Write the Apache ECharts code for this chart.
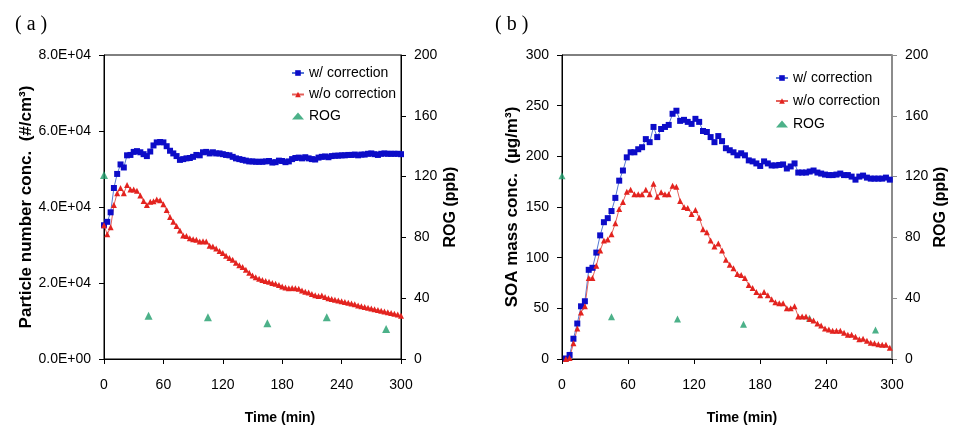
<!DOCTYPE html>
<html><head><meta charset="utf-8">
<script src="https://cdn.jsdelivr.net/npm/echarts@6/dist/echarts.min.js"></script>
<style>html,body{margin:0;padding:0;background:#fff}#c{width:956px;height:437px}</style>
</head><body><div id="c"></div><script>
// ---------- DATA ----------
const seriesNames = ['w/ correction', 'w/o correction', 'ROG'];
const panelLabels = ['( a )', '( b )'];
const xTitle = 'Time (min)';
const yTitleA = 'Particle number conc.  (#/cm³)';
const yTitleB = 'SOA mass conc.  (µg/m³)';
const yTitleROG = 'ROG (ppb)';

// Panel (a): particle number concentration (#/cm3)
const timeA = [0,3.3,6.7,10,13.3,16.7,20,23.3,26.7,30,
  33.3,36.7,40,43.3,46.7,50,53.3,56.7,60,63.3,
  66.7,70,73.3,76.7,80,83.3,86.7,90,93.3,96.7,
  100,103.3,106.7,110,113.3,116.7,120,123.3,126.7,130,
  133.3,136.7,140,143.3,146.7,150,153.3,156.7,160,163.3,
  166.7,170,173.3,176.7,180,183.3,186.7,190,193.3,196.7,
  200,203.3,206.7,210,213.3,216.7,220,223.3,226.7,230,
  233.3,236.7,240,243.3,246.7,250,253.3,256.7,260,263.3,
  266.7,270,273.3,276.7,280,283.3,286.7,290,293.3,296.7,300];
const numCorrected = [35200,36100,38600,45000,48700,51200,50400,53600,53700,54500,
  54700,54400,53900,53400,54600,56200,57000,57100,57000,56000,
  54800,54100,53400,52400,52600,52800,52900,53200,53700,53600,
  54400,54500,54100,54400,54100,54100,53900,53700,53600,53200,
  52800,52600,52400,52200,52000,52000,51900,51900,51900,52000,
  52100,51700,51800,52200,52100,51800,52000,52600,52900,53000,
  52800,53100,52800,52600,52500,53000,53200,53300,53100,53400,
  53500,53500,53600,53600,53700,53700,53800,53600,53800,53800,
  54000,54100,53900,53700,54000,54100,54000,54000,54000,54000,53900];
const numUncorrected = [35200,32800,34700,40500,43600,45000,43600,45800,44600,44600,
  44300,43000,41600,40500,41400,41500,42000,41800,40700,39200,
  37400,36100,35000,33800,32500,32400,31800,31500,31400,30900,
  31000,30900,29800,29600,29100,28400,27900,27200,26600,26100,
  25300,24700,24200,23500,22700,22000,21500,21100,20800,20500,
  20300,20000,19800,19500,19100,18800,18600,18700,18600,18500,
  18000,17700,17500,17100,16800,16600,16700,16300,16000,15800,
  15600,15400,15200,15000,14800,14600,14400,14100,13900,13700,
  13500,13300,13100,12900,12700,12500,12300,12100,11900,11700,11400];

// Panel (b): SOA mass concentration (ug/m3)
const timeB = [3.5,6.9,10.4,13.9,17.3,20.8,24.3,27.7,31.2,34.7,
  38.1,41.6,45.0,48.5,52.0,55.4,58.9,62.4,65.8,69.3,
  72.8,76.2,79.7,83.2,86.6,90.1,93.6,97.0,100.5,104.0,
  107.4,110.9,114.3,117.8,121.3,124.7,128.2,131.7,135.1,138.6,
  142.1,145.5,149.0,152.5,155.9,159.4,162.9,166.3,169.8,173.3,
  176.7,180.2,183.7,187.1,190.6,194.0,197.5,201.0,204.4,207.9,
  211.4,214.8,218.3,221.8,225.2,228.7,232.2,235.6,239.1,242.6,
  246.0,249.5,253.0,256.4,259.9,263.3,266.8,270.3,273.7,277.2,
  280.7,284.1,287.6,291.1,294.5,298.0];
const massCorrected = [0.5,4,20,35,52,57,88,90,105,122,
  135,139,146,159,176,186,199,204,204,207,
  209,217,214,229,219,227,229,231,242,245,
  235,236,234,232,237,234,225,224,219,214,
  220,215,208,206,204,201,203,201,196,195,
  193,190.5,195,193,191,191,191.5,192,188,190,
  193,184,184,184,185,186,184,183,182,181.5,
  181.5,182,183,181.5,181.5,180,177,180,181,179,
  178,178,178,178,179,177];
const massUncorrected = [0,1,15.5,30,46,52,80,80,92,107,
  117,118,123,134,148,155,165,167,162.5,162.5,
  162.5,167,162.5,173,160,164.5,162.5,162.5,171,170,
  156,150,149,143,147,139.5,128,125,117,111,
  114,107,98,93,89.5,84,83,80,73,70,
  66,63,66,63,59,56,55,55,50,50,
  52,42,42,42,39.5,38,35,33,30,29,
  28,28,28,26,24,24,22,19.5,20,18,
  16,15.5,14.5,14,14,11];

// ROG (ppb), right axes
const rogTime = [0,45,105,165,225,285];
const rogA = [121,28.5,27.4,23.5,27.4,19.7];
const rogB = [120.6,27.8,26.3,22.8,26.8,19.1];

// Axis ranges
const xRange = {min:0, max:300, interval:60};
const yRangeA = {min:0, max:80000, interval:20000};
const yRangeB = {min:0, max:300, interval:50};
const rogRange = {min:0, max:200, interval:40};

// ---------- CHART ----------
const SANS = "'Liberation Sans',Arial,sans-serif";
const BLUE = '#0c0cc8', BLUE_LINE = '#5577d4';
const RED = '#e3231f', RED_LINE = '#e4605a';
const GREEN = '#1f9d6c';

function sci(v){
  if (v === 0) return '0.0E+00';
  const e = Math.floor(Math.log10(v) + 1e-9);
  return (v/Math.pow(10,e)).toFixed(1) + 'E+' + String(e).padStart(2,'0');
}
function pairs(t, v){ return t.map((x,i) => [x, v[i]]); }

const labelStyle = {fontFamily: SANS, fontSize: 14, color: '#000'};
function xAxisCfg(gi, padLeft){
  return {
    gridIndex: gi, type: 'value', min: xRange.min, max: xRange.max, interval: xRange.interval,
    name: xTitle, nameLocation: 'middle', nameGap: 52,
    nameTextStyle: {fontFamily: SANS, fontSize: 14, fontWeight: 'bold', color: '#000', padding: [0,0,0,padLeft]},
    axisLine: {show: true, onZero: false, lineStyle: {color: '#000', width: 1}},
    axisTick: {show: true, inside: false, length: 5, lineStyle: {color: '#000'}},
    axisLabel: Object.assign({margin: 19}, labelStyle),
    splitLine: {show: false}
  };
}
function yAxisCfg(gi, pos, range, name, gap, fmt, lineColor, lineWidth, nameSize){
  return {
    gridIndex: gi, type: 'value', position: pos, min: range.min, max: range.max, interval: range.interval,
    name: name, nameLocation: 'middle', nameGap: gap,
    nameTextStyle: {fontFamily: SANS, fontSize: nameSize, fontWeight: 'bold', color: '#000'},
    axisLine: {show: true, onZero: false, lineStyle: {color: lineColor, width: lineWidth}},
    axisTick: {show: true, inside: false, length: 5, lineStyle: {color: lineColor}},
    axisLabel: Object.assign({margin: 13, formatter: fmt}, labelStyle),
    splitLine: {show: false}
  };
}
function lineSeries(name, xi, yi, data, symbol, color, lineColor, size){
  return {
    name: name, type: 'line', xAxisIndex: xi, yAxisIndex: yi, data: data,
    symbol: symbol, symbolSize: size, showSymbol: true, showAllSymbol: true,
    itemStyle: {color: color}, lineStyle: {color: lineColor, width: 1},
    emphasis: {disabled: true}, animation: false
  };
}
function rogSeries(xi, yi, data, size){
  return {
    name: 'ROG', type: 'scatter', xAxisIndex: xi, yAxisIndex: yi, data: data,
    symbol: 'triangle', symbolSize: size, itemStyle: {color: GREEN},
    emphasis: {disabled: true}, animation: false
  };
}

const chart = echarts.init(document.getElementById('c'), null, {renderer: 'canvas'});
chart.setOption({
  backgroundColor: '#fff',
  animation: false,
  grid: [
    {left: 104, top: 55, width: 297, height: 304, show: true, borderColor: '#000', borderWidth: 1, backgroundColor: 'transparent', containLabel: false, outerBoundsMode: 'none'},
    {left: 562, top: 55, width: 330, height: 304, show: true, borderColor: '#000', borderWidth: 1, backgroundColor: 'transparent', containLabel: false, outerBoundsMode: 'none'}
  ],
  xAxis: [xAxisCfg(0, 55), xAxisCfg(1, 30)],
  yAxis: [
    yAxisCfg(0, 'left', yRangeA, yTitleA, 67, sci, '#000', 1, 17),
    yAxisCfg(0, 'right', rogRange, yTitleROG, 42, null, '#000', 1, 16),
    yAxisCfg(1, 'left', yRangeB, yTitleB, 41, null, '#000', 1, 17),
    yAxisCfg(1, 'right', rogRange, yTitleROG, 41, null, '#8c8c8c', 2, 16)
  ],
  legend: [
    {left: 286, top: 61, orient: 'vertical', itemWidth: 12, itemHeight: 7, itemGap: 7.5,
     data: seriesNames, textStyle: {fontFamily: SANS, fontSize: 14, color: '#000'}, selectedMode: false},
    {left: 770, top: 66, orient: 'vertical', itemWidth: 12, itemHeight: 7, itemGap: 9,
     data: seriesNames, textStyle: {fontFamily: SANS, fontSize: 14, color: '#000'}, selectedMode: false}
  ],
  graphic: [
    {type: 'text', left: 15, top: 15, style: {text: panelLabels[0], font: "20px 'Liberation Serif', serif", fill: '#000'}},
    {type: 'text', left: 495, top: 15, style: {text: panelLabels[1], font: "20px 'Liberation Serif', serif", fill: '#000'}}
  ],
  series: [
    lineSeries(seriesNames[0], 0, 0, pairs(timeA, numCorrected), 'rect', BLUE, BLUE_LINE, 6),
    lineSeries(seriesNames[1], 0, 0, pairs(timeA, numUncorrected), 'triangle', RED, RED_LINE, 6),
    rogSeries(0, 1, pairs(rogTime, rogA), 8),
    lineSeries(seriesNames[0], 1, 2, pairs(timeB, massCorrected), 'rect', BLUE, BLUE_LINE, 6),
    lineSeries(seriesNames[1], 1, 2, pairs(timeB, massUncorrected), 'triangle', RED, RED_LINE, 6),
    rogSeries(1, 3, pairs(rogTime, rogB), 7)
  ]
});
</script></body></html>
